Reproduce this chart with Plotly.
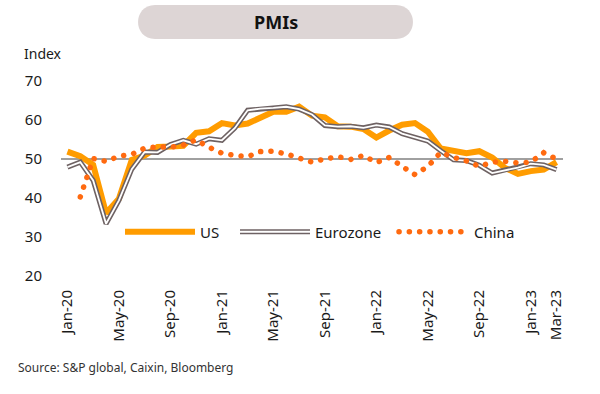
import plotly.graph_objects as go

months = ["Jan-20","Feb-20","Mar-20","Apr-20","May-20","Jun-20","Jul-20","Aug-20","Sep-20","Oct-20","Nov-20","Dec-20",
          "Jan-21","Feb-21","Mar-21","Apr-21","May-21","Jun-21","Jul-21","Aug-21","Sep-21","Oct-21","Nov-21","Dec-21",
          "Jan-22","Feb-22","Mar-22","Apr-22","May-22","Jun-22","Jul-22","Aug-22","Sep-22","Oct-22","Nov-22","Dec-22",
          "Jan-23","Feb-23","Mar-23"]
tick_labels = ["Jan-20","May-20","Sep-20","Jan-21","May-21","Sep-21","Jan-22","May-22","Sep-22","Jan-23","Mar-23"]
y_ticks = [20, 30, 40, 50, 60, 70]

us = [51.9,50.7,48.5,36.1,39.8,49.8,50.9,53.1,53.2,53.4,56.7,57.1,
      59.2,58.6,59.1,60.5,62.1,62.1,63.4,61.1,60.7,58.4,58.3,57.7,
      55.5,57.3,58.8,59.2,57.0,52.7,52.2,51.5,52.0,50.4,47.7,46.2,
      46.9,47.3,49.2]
eurozone = [47.9,49.2,44.5,33.4,39.4,47.4,51.8,51.7,53.7,54.8,53.8,55.2,
            54.8,57.9,62.5,62.9,63.1,63.4,62.8,61.4,58.6,58.3,58.4,58.0,
            58.7,58.2,56.5,55.5,54.6,52.1,49.8,49.6,48.4,46.4,47.1,47.8,
            48.8,48.5,47.3]
china = [None,40.3,50.1,49.4,50.7,51.2,52.8,53.1,53.0,53.6,54.9,53.0,
         51.5,50.9,50.6,51.9,52.0,51.3,50.3,49.2,50.0,50.6,49.9,50.9,
         49.1,50.4,48.1,46.0,48.1,51.7,50.4,49.5,48.1,49.2,49.4,49.0,
         49.2,51.6,50.0]

W, H = 600, 394
L, R, T, B = 61, 37, 81, 118
PW, PH = W - L - R, H - T - B

def px(x):
    return (x - L) / PW

def py(y):
    return (H - B - y) / PH

US_C = "#FF9C00"
EZ_C = "#6E6263"
CN_C = "#FF6A10"
FONT = "Noto Sans"

fig = go.Figure()
fig.add_trace(go.Scatter(x=months, y=us, mode="lines", name="US",
                         line=dict(color=US_C, width=6), legend="legend"))
fig.add_trace(go.Scatter(x=months, y=eurozone, mode="lines", name="Eurozone",
                         line=dict(color=EZ_C, width=5), legend="legend2"))
fig.add_trace(go.Scatter(x=months, y=eurozone, mode="lines", name=" ",
                         line=dict(color="white", width=1.8), legend="legend4"))
fig.add_trace(go.Scatter(x=months, y=china, mode="lines", name="China",
                         line=dict(color=CN_C, width=5.5, dash="0.1px,10.2px"), legend="legend3",
                         connectgaps=False))

leg_common = dict(orientation="h", yanchor="middle", bgcolor="rgba(0,0,0,0)",
                  font=dict(family=FONT, size=15, color="#1a1a1a"), itemwidth=70,
                  xanchor="left")
fig.update_layout(
    legend=dict(x=px(120), y=py(232), **leg_common),
    legend2=dict(x=px(235), y=py(232), **leg_common),
    legend4=dict(x=px(235), y=py(232), **leg_common),
    legend3=dict(x=px(394), y=py(232), **leg_common),
)

fig.add_shape(type="line", xref="paper", yref="y", x0=0, x1=1, y0=50, y1=50,
              line=dict(color="#808080", width=1.5), layer="below")

# title pill
x0, x1, y0, y1 = 138, 413, 5, 39
r = (y1 - y0) / 2
path = (f"M{px(x0 + r)},{py(y0)} L{px(x1 - r)},{py(y0)} "
        f"C{px(x1 + r * 0.33)},{py(y0)} {px(x1 + r * 0.33)},{py(y1)} {px(x1 - r)},{py(y1)} "
        f"L{px(x0 + r)},{py(y1)} "
        f"C{px(x0 - r * 0.33)},{py(y1)} {px(x0 - r * 0.33)},{py(y0)} {px(x0 + r)},{py(y0)} Z")
fig.add_shape(type="path", xref="paper", yref="paper", path=path,
              fillcolor="#DDD5D5", line=dict(width=0), layer="below")
fig.add_annotation(text="<b>PMIs</b>", xref="paper", yref="paper", x=px(276), y=py(22),
                   showarrow=False, font=dict(family=FONT, size=18, color="#111"),
                   xanchor="center", yanchor="middle")
fig.add_annotation(text="Index", xref="paper", yref="paper", x=px(22), y=py(53),
                   showarrow=False, font=dict(family=FONT, size=14, color="#1a1a1a"),
                   xanchor="left", yanchor="middle")
fig.add_annotation(text="Source: S&P global, Caixin, Bloomberg", xref="paper", yref="paper",
                   x=px(16), y=py(367), showarrow=False,
                   font=dict(family=FONT, size=12, color="#333"),
                   xanchor="left", yanchor="middle")

fig.update_xaxes(type="category", categoryorder="array", categoryarray=months,
                 tickmode="array", tickvals=tick_labels, ticktext=tick_labels,
                 tickangle=-90, showgrid=False, showline=False, zeroline=False,
                 ticks="", ticklabelstandoff=10, range=[-0.5, len(months) - 0.5],
                 tickfont=dict(family=FONT, size=15, color="#1a1a1a"))
fig.update_yaxes(range=[20, 70], tickvals=y_ticks, showgrid=False, showline=False,
                 zeroline=False, ticks="", ticklabelstandoff=18,
                 tickfont=dict(family=FONT, size=15, color="#1a1a1a"))

fig.update_layout(width=W, height=H, margin=dict(l=L, r=R, t=T, b=B, autoexpand=False),
                  paper_bgcolor="white", plot_bgcolor="white", showlegend=True,
                  hovermode=False)

post = """
document.body.style.margin='0';
var gd = document.getElementById('{plot_id}');
function roundDots(){
  gd.querySelectorAll('path').forEach(function(p){
    var d = p.style.strokeDasharray || p.getAttribute('stroke-dasharray') || '';
    if (d.indexOf('0.1') >= 0) { p.style.strokeLinecap = 'round'; }
  });
}
roundDots();
if (gd.on) { gd.on('plotly_afterplot', roundDots); }
setTimeout(roundDots, 50);
"""
fig.write_html("out.html", post_script=post, config={"displayModeBar": False})
